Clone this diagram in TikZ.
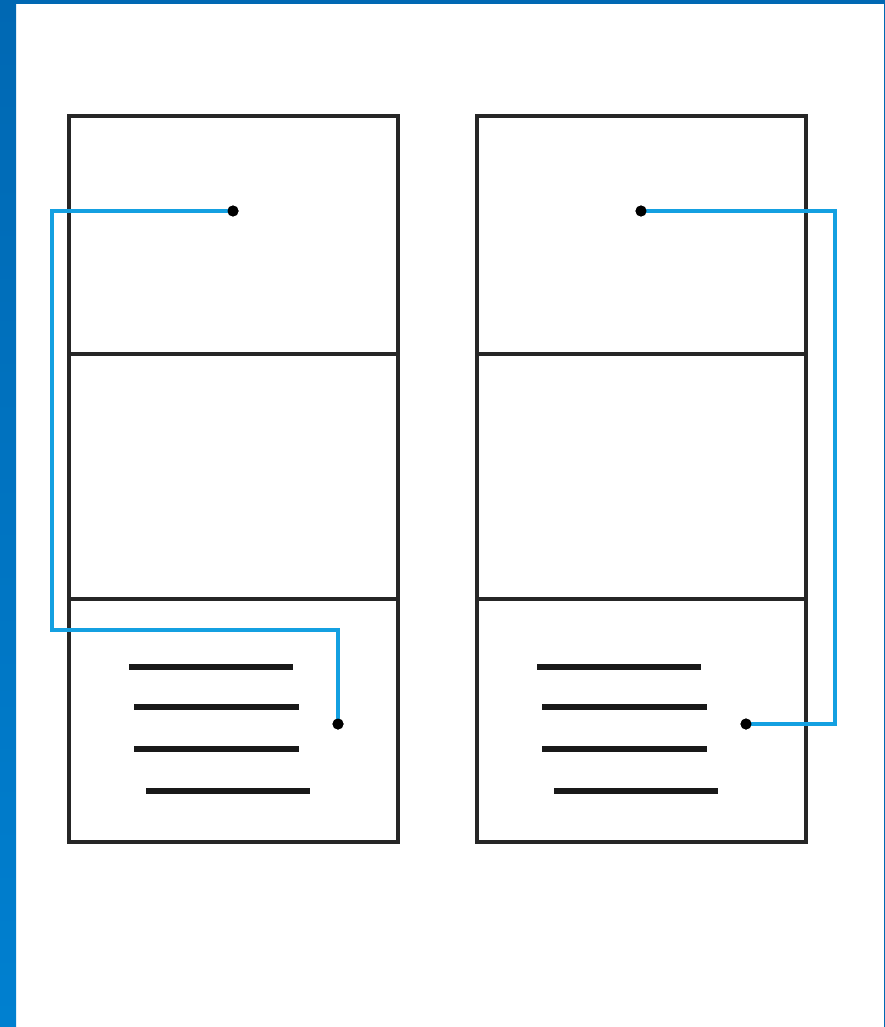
\documentclass[tikz,border=0pt]{standalone}
\usepackage{tikz}
\usetikzlibrary{calc}
\definecolor{frameblue}{RGB}{0, 104, 179}
\definecolor{framelight}{RGB}{0, 128, 208}
\definecolor{linkblue}{RGB}{20, 160, 225}
\tikzset{
  box/.style={draw=black!85, line width=1.9pt},
  textline/.style={black!90, line width=3.8pt},
  link/.style={linkblue, line width=1.8pt},
  dot/.style={circle, fill=black, inner sep=0pt, minimum size=0.22cm}
}

\begin{document}
\begin{tikzpicture}[x=0.02cm, y=-0.02cm]
    \useasboundingbox (0,0) rectangle (885,1027);
    \fill[white] (0,0) rectangle (885,1027);
    % frame
    \shade[top color=frameblue, bottom color=framelight] (0,0) rectangle (16,1027);
    \fill[frameblue] (0,0) rectangle (885,4);
    \fill[frameblue] (884,0) rectangle (885,1027);
    % two pages
    \foreach \x in {69,477} {
      \draw[box] (\x,116) rectangle (\x+329,842);
      \draw[box] (\x,354) -- (\x+329,354);
      \draw[box] (\x,599) -- (\x+329,599);
      \draw[textline] (\x+60,667) -- (\x+224,667);
      \draw[textline] (\x+65,707) -- (\x+230,707);
      \draw[textline] (\x+65,749) -- (\x+230,749);
      \draw[textline] (\x+77,791) -- (\x+241,791);
    }
    \node[dot] (topL) at (233,211) {};
    \node[dot] (botL) at (338,724) {};
    \node[dot] (topR) at (641,211) {};
    \node[dot] (botR) at (746,724) {};
    \coordinate (bendL) at (52,630);
    \coordinate (bendR) at (835,724);
    \draw[link] (topL.center) -| (bendL) -| (botL.center);
    \draw[link] (topR.center) -| (bendR) -- (botR.center);
    \node[dot] at (topL) {};
    \node[dot] at (botL) {};
    \node[dot] at (topR) {};
    \node[dot] at (botR) {};
  \end{tikzpicture}
\end{document}
